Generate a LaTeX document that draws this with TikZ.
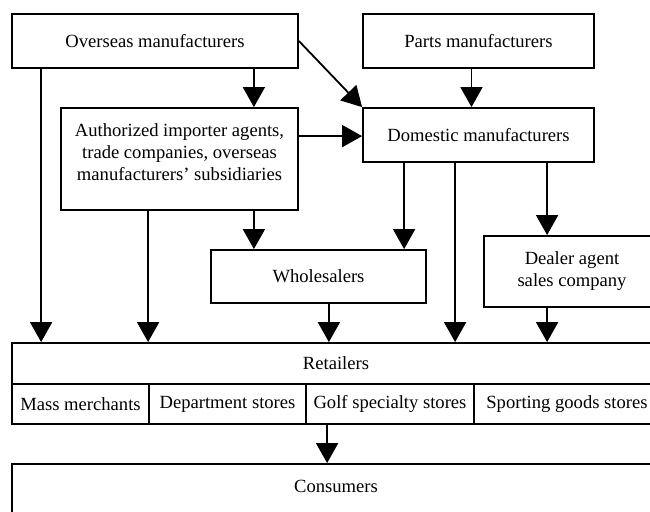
\documentclass[tikz,border=0pt]{standalone}
\usepackage{fontspec}
\setmainfont{Liberation Serif}
\usetikzlibrary{arrows.meta,positioning,calc}
\tikzset{
  box/.style={draw, fill=white, rectangle, align=center, inner sep=0pt,
              line width=0.9pt, font=\fontsize{9.3}{11}\selectfont},
  cell/.style={box, minimum height=20pt},
  ar/.style={-{Triangle[length=10pt,width=11pt]}, line width=0.9pt},
  lbl/.style={font=\fontsize{9.3}{11}\selectfont, align=center}
}

\begin{document}
\begin{tikzpicture}[x=0.5pt,y=-0.5pt]
  \clip (0,0) rectangle (650,512);
  \useasboundingbox (0,0) rectangle (650,512);

  % top row
  \node[box, minimum width=143pt, minimum height=27pt] (ov) at (155,41) {Overseas manufacturers};
  \node[box, minimum width=115.5pt, minimum height=27pt] (parts) at (478.5,41) {Parts manufacturers};

  % second row
  \node[box, minimum width=118.5pt, minimum height=51pt] (imp) at (179.5,159) {};
  \node[lbl] (imptxt) at (179.5,152) {Authorized importer agents,\\trade companies, overseas\\manufacturers' subsidiaries};
  \node[box, minimum width=115.5pt, minimum height=27pt] (dom) at (478.5,135) {Domestic manufacturers};

  % third row
  \node[box, minimum width=107.5pt, minimum height=26.5pt] (whole) at (318.5,276.5) {Wholesalers};
  \node[box, minimum width=88pt, minimum height=35.5pt] (dealer) at (572,271.5) {Dealer agent\\sales company};

  % retailers
  \node[box, minimum width=324pt, minimum height=20.5pt] (ret) at (336,363.5) {Retailers};
  \node[cell, minimum width=68.5pt] (mass) at (80.5,404) {Mass merchants};
  \node[cell, minimum width=78.5pt] (dept) at (227.5,404) {Department stores};
  \node[cell, minimum width=84pt] (golf) at (390,404) {Golf specialty stores};
  \node[cell, minimum width=93pt] (sport) at (567,404) {Sporting goods stores};

  % consumers
  \node[box, minimum width=324pt, minimum height=28pt] (cons) at (336,492) {};
  \node[lbl] (constxt) at (336,486) {Consumers};

  % flows
  \draw[ar] ($(ov.south east)+(-45,0)$) coordinate (a1) -- (a1 |- imp.north);
  \draw[ar] ($(ov.south west)+(30,0)$) coordinate (a2) -- (a2 |- ret.north);
  \draw[ar] (ov.east) -- (dom.north west);
  \draw[ar] ($(parts.south)+(-7,0)$) coordinate (a3) -- (a3 |- dom.north);
  \draw[ar] ($(imp.north east)+(0,29)$) coordinate (a4) -- (a4 -| dom.west);
  \draw[ar] ($(imp.south west)+(88,0)$) coordinate (a5) -- (a5 |- ret.north);
  \draw[ar] ($(imp.south east)+(-45,0)$) coordinate (a6) -- (a6 |- whole.north);
  \draw[ar] ($(dom.south west)+(42,0)$) coordinate (a7) -- (a7 |- whole.north);
  \draw[ar] ($(dom.south west)+(93,0)$) coordinate (a8) -- (a8 |- ret.north);
  \draw[ar] ($(dom.south west)+(185,0)$) coordinate (a9) -- (a9 |- dealer.north);
  \draw[ar] ($(whole.south east)+(-98,0)$) coordinate (a10) -- (a10 |- ret.north);
  \draw[ar] (a9 |- dealer.south) -- (a9 |- ret.north);
  \draw[ar] ($(golf.south west)+(22,0)$) coordinate (a11) -- (a11 |- cons.north);
\end{tikzpicture}
\end{document}
